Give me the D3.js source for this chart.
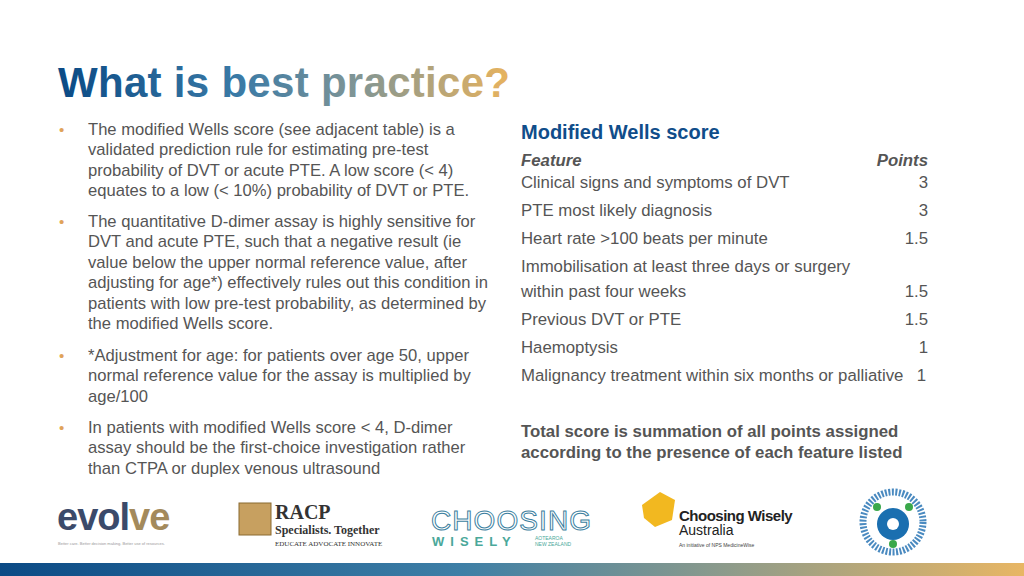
<!DOCTYPE html>
<html><head><meta charset="utf-8">
<script src="https://cdn.jsdelivr.net/npm/d3@7"></script>
<style>body{margin:0;background:#fff}svg{display:block}</style>
</head><body><svg width="1024" height="576"></svg>
<script>
const features = ["Clinical signs and symptoms of DVT", "PTE most likely diagnosis", "Heart rate >100 beats per minute",
  "Immobilisation at least three days or surgery|within past four weeks", "Previous DVT or PTE", "Haemoptysis",
  "Malignancy treatment within six months or palliative"];
const points = ["3", "3", "1.5", "1.5", "1.5", "1", "1"];
const bullets = [
  ["The modified Wells score (see adjacent table) is a", "validated prediction rule for estimating pre-test", "probability of DVT or acute PTE. A low score (< 4)", "equates to a low (< 10%) probability of DVT or PTE."],
  ["The quantitative D-dimer assay is highly sensitive for", "DVT and acute PTE, such that a negative result (ie", "value below the upper normal reference value, after", "adjusting for age*) effectively rules out this condition in", "patients with low pre-test probability, as determined by", "the modified Wells score."],
  ["*Adjustment for age: for patients over age 50, upper", "normal reference value for the assay is multiplied by", "age/100"],
  ["In patients with modified Wells score < 4, D-dimer", "assay should be the first-choice investigation rather", "than CTPA or duplex venous ultrasound"]
];
const bulletTops = [135, 227, 361, 433];

const svg = d3.select("svg");
const font = "Liberation Sans, Arial, sans-serif";
const defs = svg.append("defs");
const grad = defs.append("linearGradient").attr("id", "brand");
[["0%", "#0b4a85"], ["45%", "#3e7fa6"], ["70%", "#8a9a8c"], ["100%", "#e8b664"]]
  .forEach(s => grad.append("stop").attr("offset", s[0]).attr("stop-color", s[1]));
const tgrad = defs.append("linearGradient").attr("id", "title").attr("gradientUnits", "userSpaceOnUse")
  .attr("x1", 58).attr("x2", 510);
[["0%", "#0b4a85"], ["40%", "#3a7aa6"], ["65%", "#7d9496"], ["100%", "#e8b35e"]]
  .forEach(s => tgrad.append("stop").attr("offset", s[0]).attr("stop-color", s[1]));

svg.append("text").attr("x", 58).attr("y", 97).attr("font-family", font).attr("font-weight", "bold")
  .attr("font-size", 42).attr("textLength", 452).attr("fill", "url(#title)").text("What is best practice?");

// bullets
const lineH = 20.4;
bullets.forEach((b, i) => {
  svg.append("text").attr("x", 59).attr("y", bulletTops[i]).attr("font-family", font)
    .attr("font-size", 15).attr("fill", "#e0a35a").text("•");
  svg.append("text").attr("font-family", font).attr("font-size", 16.6).attr("fill", "#555")
    .selectAll("tspan").data(b).join("tspan")
    .attr("x", 88).attr("y", (d, j) => bulletTops[i] + j * lineH).text(d => d);
});

// table
const fs = 16.8;
svg.append("text").attr("x", 521).attr("y", 139).attr("font-family", font).attr("font-weight", "bold")
  .attr("font-size", 20).attr("fill", "#104d8a").text("Modified Wells score");
svg.append("text").attr("x", 521).attr("y", 166).attr("font-family", font).attr("font-weight", "bold")
  .attr("font-style", "italic").attr("font-size", fs).attr("fill", "#555").text("Feature");
svg.append("text").attr("x", 928).attr("y", 166).attr("text-anchor", "end").attr("font-family", font)
  .attr("font-weight", "bold").attr("font-style", "italic").attr("font-size", fs).attr("fill", "#555").text("Points");

const rowStarts = [];
let acc = 0;
features.forEach(f => { rowStarts.push(acc); acc += f.split("|").length; });
const y = d3.scaleLinear().domain([0, 1]).range([188, 216]);
const lineStep = 25;
features.forEach((f, i) => {
  const parts = f.split("|");
  const base = y(i) + (rowStarts[i] - i) * lineStep;
  const t = svg.append("text").attr("font-family", font).attr("font-size", fs).attr("fill", "#555");
  parts.forEach((p, j) => t.append("tspan").attr("x", 521).attr("y", base + j * lineStep).text(p));
  svg.append("text").attr("x", i === features.length - 1 ? 926 : 928)
    .attr("y", base + (parts.length - 1) * lineStep).attr("text-anchor", "end")
    .attr("font-family", font).attr("font-size", fs).attr("fill", "#555").text(points[i]);
});
svg.append("text").attr("font-family", font).attr("font-weight", "bold").attr("font-size", fs).attr("fill", "#555")
  .selectAll("tspan").data(["Total score is summation of all points assigned", "according to the presence of each feature listed"])
  .join("tspan").attr("x", 521).attr("y", (d, j) => 437 + j * 21).text(d => d);

// logos (approximated)
const evolve = svg.append("text").attr("x", 57).attr("y", 530).attr("font-family", font).attr("font-weight", "bold")
  .attr("font-size", 38).attr("letter-spacing", -1);
[["evol", "#3b4a6a"], ["ve", "#a38a5c"]].forEach(s => evolve.append("tspan").attr("fill", s[1]).text(s[0]));
svg.append("text").attr("x", 58).attr("y", 545).attr("font-family", font).attr("font-size", 4).attr("fill", "#999")
  .text("Better care. Better decision making. Better use of resources.");

svg.append("rect").attr("x", 239).attr("y", 503).attr("width", 32).attr("height", 32).attr("fill", "#c7a060").attr("stroke", "#8a6a30");
svg.append("text").attr("x", 275).attr("y", 519).attr("font-family", "Liberation Serif, serif").attr("font-weight", "bold").attr("font-size", 20).attr("fill", "#333").text("RACP");
svg.append("text").attr("x", 275).attr("y", 534).attr("font-family", "Liberation Serif, serif").attr("font-weight", "bold").attr("font-size", 12).attr("fill", "#333").text("Specialists. Together");
svg.append("text").attr("x", 275).attr("y", 546).attr("font-family", "Liberation Serif, serif").attr("font-size", 7).attr("fill", "#333").text("EDUCATE  ADVOCATE  INNOVATE");

svg.append("text").attr("x", 431).attr("y", 530).attr("font-family", font).attr("font-size", 28).attr("fill", "none")
  .attr("stroke", "#3c7fa0").attr("stroke-width", 1).attr("textLength", 160).text("CHOOSING");
svg.append("text").attr("x", 432).attr("y", 546).attr("font-family", font).attr("font-weight", "bold").attr("font-size", 13)
  .attr("fill", "#4aa89a").attr("letter-spacing", 6).text("WISELY");
svg.append("text").attr("x", 535).attr("y", 540).attr("font-family", font).attr("font-size", 5).attr("fill", "#4aa89a").text("AOTEAROA");
svg.append("text").attr("x", 535).attr("y", 546).attr("font-family", font).attr("font-size", 5).attr("fill", "#4aa89a").text("NEW ZEALAND");

svg.append("path").attr("d", "M642,505 L660,492 L675,500 L672,520 L655,527 L644,518 Z").attr("fill", "#f2b820");
svg.append("text").attr("x", 679).attr("y", 521).attr("font-family", font).attr("font-weight", "bold").attr("font-size", 15).attr("fill", "#222").attr("letter-spacing", -0.5).text("Choosing Wisely");
svg.append("text").attr("x", 679).attr("y", 535).attr("font-family", font).attr("font-size", 14).attr("fill", "#222").text("Australia");
svg.append("text").attr("x", 679).attr("y", 547).attr("font-family", font).attr("font-size", 5).attr("fill", "#444").text("An initiative of NPS MedicineWise");

svg.append("circle").attr("cx", 893).attr("cy", 522).attr("r", 30).attr("fill", "none").attr("stroke", "#4a8ac0").attr("stroke-width", 7).attr("stroke-dasharray", "2 1.5");
svg.append("circle").attr("cx", 893).attr("cy", 524).attr("r", 16).attr("fill", "#1a6fb0");
svg.append("circle").attr("cx", 893).attr("cy", 524).attr("r", 6).attr("fill", "#fff");
[[877, 507], [909, 507], [893, 544]].forEach(p => svg.append("circle").attr("cx", p[0]).attr("cy", p[1]).attr("r", 4).attr("fill", "#3aa84a"));

svg.append("rect").attr("x", 0).attr("y", 563).attr("width", 1024).attr("height", 13).attr("fill", "url(#brand)");
</script></body></html>
